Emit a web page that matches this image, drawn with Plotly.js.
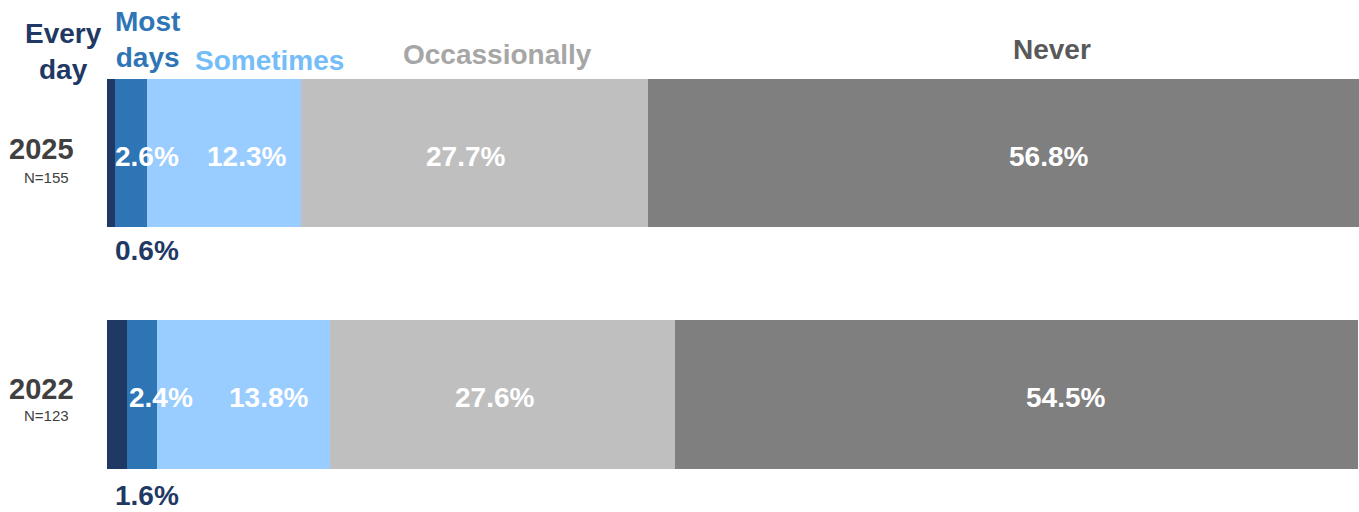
<!DOCTYPE html>
<html>
<head>
<meta charset="utf-8">
<script src="https://cdn.plot.ly/plotly-3.0.1.min.js"></script>
<style>html,body{margin:0;padding:0;background:#fff;}#chart{width:1359px;height:512px;}</style>
</head>
<body>
<div id="chart"></div>
<script>
// ---- data ----
const categories = ['2025', '2022'];
const sampleSizes = ['N=155', 'N=123'];
const seriesNames = ['Every day', 'Most days', 'Sometimes', 'Occassionally', 'Never'];
const headerLabels = ['Every<br>day', 'Most<br>days', 'Sometimes', 'Occassionally', 'Never'];
const everyDay = [0.6, 1.6];
const mostDays = [2.6, 2.4];
const sometimes = [12.3, 13.8];
const occasionally = [27.7, 27.6];
const never = [56.8, 54.5];

// ---- styles ----
const series = [everyDay, mostDays, sometimes, occasionally, never];
const barColors = ['#1F3864', '#2E75B6', '#99CCFF', '#BFBFBF', '#7F7F7F'];
const headColors = ['#1F3864', '#2E75B6', '#75BDF7', '#A6A6A6', '#595959'];
const FONT = 'Liberation Sans, Arial, sans-serif';
const W = 1359, H = 512, L = 107;
const px = x => (x - L) / (W - L);
const py = y => 1 - y / H;

const traces = series.map((vals, i) => ({
  type: 'bar', orientation: 'h',
  name: seriesNames[i],
  y: categories, x: vals,
  width: 0.613,
  marker: {color: barColors[i], line: {width: 0}},
  hoverinfo: 'x+name'
}));

const ann = [];
// header labels
const headPos = [[63, 51], [147, 39], [269, 60], [498, 54], [1052, 49]];
headerLabels.forEach((t, i) => {
  ann.push({xref: 'paper', yref: 'paper', x: px(headPos[i][0]), y: py(headPos[i][1]),
    text: '<b>' + t + '</b>', showarrow: false, xanchor: 'center', yanchor: 'middle',
    font: {family: FONT, size: 28, color: headColors[i]}});
});
// inside labels (segments 2..5) with small offsets
const shifts = [null, [16, 19], [22, 25], [-9, -8], [45, 49]];
categories.forEach((c, ci) => {
  let cum = 0;
  series.forEach((vals, si) => {
    const v = vals[ci];
    const mid = cum + v / 2;
    cum += v;
    if (si === 0) return;
    ann.push({xref: 'x', yref: 'y', x: mid, y: ci, xshift: shifts[si][ci], yshift: -3,
      text: '<b>' + v.toFixed(1) + '%</b>', showarrow: false, xanchor: 'center', yanchor: 'middle',
      font: {family: FONT, size: 28, color: '#FFFFFF'}});
  });
  // Every day value below bar
  ann.push({xref: 'paper', yref: 'paper', x: px(147), y: py(ci === 0 ? 250 : 495),
    text: '<b>' + everyDay[ci].toFixed(1) + '%</b>', showarrow: false, xanchor: 'center', yanchor: 'middle',
    font: {family: FONT, size: 28, color: '#1F3864'}});
  // year labels
  ann.push({xref: 'paper', yref: 'paper', x: px(41), y: py(ci === 0 ? 149 : 389),
    text: '<b>' + c + '</b>', showarrow: false, xanchor: 'center', yanchor: 'middle',
    font: {family: FONT, size: 29, color: '#404040'}});
  ann.push({xref: 'paper', yref: 'paper', x: px(46), y: py(ci === 0 ? 177 : 415),
    text: sampleSizes[ci], showarrow: false, xanchor: 'center', yanchor: 'middle',
    font: {family: FONT, size: 15, color: '#404040'}});
});

const layout = {
  width: W, height: H,
  margin: {l: L, r: 0, t: 0, b: 0, pad: 0},
  barmode: 'stack',
  showlegend: false,
  paper_bgcolor: '#FFFFFF', plot_bgcolor: '#FFFFFF',
  xaxis: {range: [0, 100], visible: false, fixedrange: true},
  yaxis: {type: 'category', categoryorder: 'array', categoryarray: categories,
    range: [1.4865, -0.6335], visible: false, fixedrange: true},
  annotations: ann
};

Plotly.newPlot('chart', traces, layout, {displayModeBar: false, staticPlot: true});
</script>
</body>
</html>
